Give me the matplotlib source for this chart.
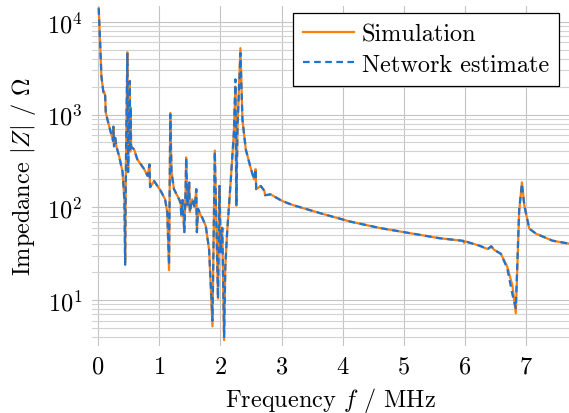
import numpy as np
import matplotlib
matplotlib.use('Agg')
import matplotlib.pyplot as plt
from matplotlib.ticker import LogLocator

plt.rc('font', family='serif', size=17.5)
plt.rc('font', serif=['cmr10'])
plt.rc('mathtext', fontset='cm')
plt.rc('axes', unicode_minus=False)
plt.rc('axes.formatter', use_mathtext=True)

# frequency in MHz, impedance in Ohm
freq = [0.01, 0.033, 0.054, 0.087, 0.10, 0.115, 0.125, 0.15, 0.18, 0.22,
        0.245, 0.25, 0.26, 0.28, 0.30, 0.343, 0.40, 0.43, 0.442, 0.455,
        0.478, 0.485, 0.49, 0.505, 0.518, 0.525, 0.53, 0.54, 0.59, 0.64,
        0.75, 0.81, 0.84, 0.85, 0.916, 1.025, 1.095, 1.13, 1.16, 1.18,
        1.20, 1.24, 1.325, 1.35, 1.36, 1.38, 1.41, 1.43, 1.44, 1.46,
        1.49, 1.50, 1.54, 1.58, 1.605, 1.615, 1.635, 1.68, 1.70, 1.76,
        1.815, 1.87, 1.908, 1.96, 1.985, 2.005, 2.03, 2.06, 2.08, 2.11,
        2.17, 2.22, 2.245, 2.26, 2.28, 2.327, 2.36, 2.415, 2.50, 2.55,
        2.575, 2.585, 2.66, 2.72, 2.73, 2.82, 3.01, 3.18, 3.67, 4.13,
        4.60, 5.03, 5.58, 5.97, 5.985, 6.00, 6.23, 6.37, 6.43, 6.47,
        6.585, 6.69, 6.775, 6.83, 6.885, 6.93, 6.97, 7.05, 7.16, 7.43,
        7.69]
z_sim = [14000, 5900, 2580, 1720, 1760, 1600, 1050, 900, 750, 600,
         520, 740, 455, 560, 450, 357, 240, 120, 25, 300,
         4700, 900, 240, 700, 2280, 400, 1200, 450, 420, 330,
         260, 218, 290, 165, 192, 150, 122, 89, 21, 1040,
         240, 157, 122, 110, 81, 120, 54, 150, 345, 104,
         185, 89, 122, 100, 157, 54, 96, 81, 78, 63,
         35, 5.2, 410, 10.4, 170, 33, 60, 3.7, 23, 54,
         200, 640, 2000, 104, 750, 5200, 880, 420, 258, 200,
         258, 157, 170, 150, 135, 138, 117, 106, 85, 70,
         60, 53.6, 46.5, 43.5, 41.5, 43, 38.7, 35.5, 38, 35,
         31.6, 23, 14.3, 7.2, 89, 186, 104, 59, 52, 43.7,
         40.7]
z_net = [14000, 5900, 2580, 1720, 1760, 1600, 1050, 900, 750, 600,
         520, 740, 455, 560, 450, 357, 240, 120, 24, 300,
         4500, 900, 240, 700, 2300, 400, 1200, 450, 420, 330,
         260, 218, 290, 165, 192, 150, 122, 89, 24, 1000,
         240, 157, 122, 110, 81, 120, 54, 150, 340, 104,
         185, 89, 122, 100, 157, 54, 96, 81, 78, 63,
         35, 6.0, 400, 10.4, 170, 33, 60, 4.0, 23, 54,
         200, 640, 2400, 104, 750, 4600, 880, 420, 258, 200,
         258, 157, 170, 150, 135, 138, 117, 106, 85, 70,
         60, 53.6, 46.5, 43.5, 41.5, 43, 38.7, 35.5, 38, 35,
         31.6, 22, 11.5, 8.2, 95, 180, 104, 59, 52, 43.7,
         40.7]

fig = plt.figure(figsize=(5.69, 4.14), dpi=100)
ax = fig.add_axes([92/569, 1 - 347/414, 1 - 92/569, 340/414])

ax.plot(freq, z_sim, color='#ff7f0e', lw=1.6, label='Simulation')
ax.plot(freq, z_net, color='#1f74cf', lw=1.6, dashes=(3, 2),
        label='Network estimate')

ax.set_yscale('log')
ax.set_xlim(-0.1, 7.7)
ax.set_ylim(3.2, 14800)
ax.set_xticks(range(8))
ax.yaxis.set_major_locator(LogLocator(base=10, numticks=10))
ax.yaxis.set_minor_locator(LogLocator(base=10, subs=np.arange(2, 10), numticks=20))

for s in ax.spines.values():
    s.set_visible(False)
ax.tick_params(which='both', length=0)
ax.tick_params(axis='x', pad=7)
ax.tick_params(axis='y', pad=7)
ax.grid(True, which='major', color='#c4c4c4', lw=0.8)
ax.grid(True, which='minor', axis='y', color='#d2d2d2', lw=0.8)
ax.set_axisbelow(True)

ax.set_xlabel('Frequency $f$ / MHz', labelpad=5)
ax.set_ylabel(r'Impedance $|Z|$ / $\Omega$', labelpad=6)

leg = ax.legend(loc='upper right', bbox_to_anchor=(559/569, 1 - 14/414),
                bbox_transform=fig.transFigure, borderaxespad=0,
                fancybox=False, framealpha=1, edgecolor='black',
                handlelength=2.1, handletextpad=0.3, labelspacing=0.35,
                borderpad=0.42)
leg.get_frame().set_linewidth(0.9)

fig.savefig('out.png', dpi=100)
